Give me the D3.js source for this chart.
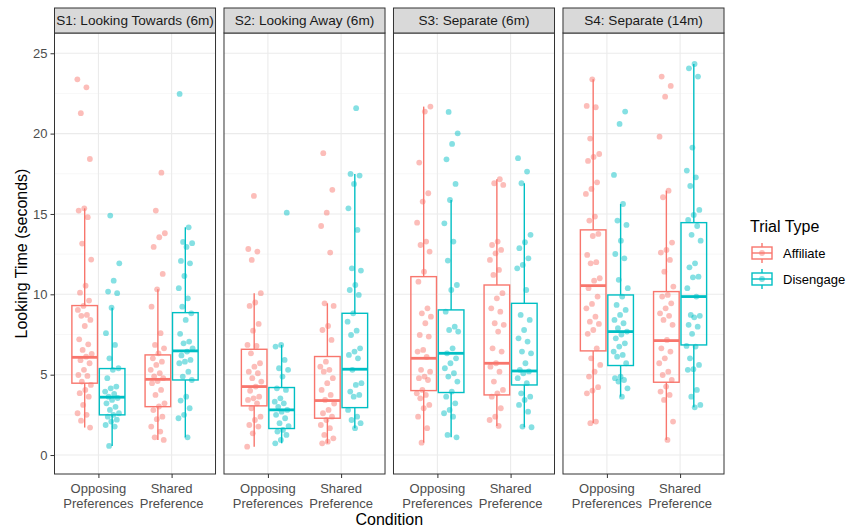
<!DOCTYPE html>
<html>
<head>
<meta charset="utf-8">
<script src="https://cdn.jsdelivr.net/npm/d3@7"></script>
<style>
  body { margin: 0; background: #fff; }
  text { font-family: "Liberation Sans", Arial, Helvetica, sans-serif; }
</style>
</head>
<body>
<div id="chart"></div>
<script>
// facets, conditions, trial types
const facets = ["S1: Looking Towards (6m)", "S2: Looking Away (6m)", "S3: Separate (6m)", "S4: Separate (14m)"];
const conditions = ["Opposing Preferences", "Shared Preference"];
const conditionLines = [["Opposing", "Preferences"], ["Shared", "Preference"]];
const trialTypes = ["Affiliate", "Disengage"];
const yTicks = [0, 5, 10, 15, 20, 25];
const yMinor = [2.5, 7.5, 12.5, 17.5, 22.5];

// box summaries, order: facet > condition > trial type
const boxLow  = [1.71, 0.57, 0.94, 1.1,   0.52, 0.73, 0.73, 1.67,   0.77, 1.1, 1.81, 1.73,    1.98, 3.63, 0.94, 2.97];
const boxQ1   = [4.47, 2.5, 3.01, 4.67,   3.06, 1.65, 2.29, 2.95,   4.01, 3.89, 3.74, 4.36,   6.48, 5.57, 4.53, 6.85];
const boxMed  = [6.08, 3.6, 4.71, 6.48,   4.26, 2.81, 3.39, 5.34,   6.02, 6.33, 5.71, 5.23,   10.54, 7.68, 7.12, 9.86];
const boxQ3   = [9.3, 5.38, 6.23, 8.86,   6.58, 4.2, 6.13, 8.82,    11.1, 9.03, 10.58, 9.44,  14.01, 9.96, 10.17, 14.46];
const boxHigh = [15.35, 9.17, 10.31, 14.17, 10.07, 6.85, 9.44, 17.49, 21.68, 15.87, 17.16, 16.91, 23.38, 15.62, 16.45, 24.33];

// looking times per facet: [opp/affiliate, opp/disengage, shared/affiliate, shared/disengage]
const s1Points = [
  [23.38,22.88,21.27,18.42,15.35,15.21,14.8,13.16,12.16,10.54,10.1,9.61,9.28,9.03,8.72,8.66,8.41,8.03,7.2,6.89,6.54,6.3,6.12,5.9,5.71,5.3,4.98,4.92,4.57,4.36,4.05,3.85,3.63,3.12,2.6,2.5,2.14,1.71],
  [14.9,11.93,10.85,10.17,10.07,9.17,7.58,6.85,6.02,5.4,5.3,4.78,4.26,4.15,3.95,3.8,3.63,3.55,3.43,3.22,3.0,2.81,2.6,2.5,2.39,2.2,2.08,1.87,1.77,0.57],
  [17.57,15.21,13.8,13.55,12.95,11.27,10.31,9.23,7.58,6.85,6.64,6.33,6.02,5.81,5.61,5.3,5.09,4.9,4.78,4.6,4.47,4.05,3.74,3.22,3.02,2.8,2.39,2.23,1.77,1.46,1.1,0.94],
  [22.47,14.17,13.26,13.18,12.95,12.08,11.93,11.14,10.38,9.75,9.23,8.82,8.41,7.54,7.06,6.95,6.64,6.44,6.2,5.92,5.81,5.71,5.19,4.88,4.67,3.63,3.39,2.91,2.5,2.29,1.1]
];
const s2Points = [
  [16.12,12.82,12.66,12.14,10.07,9.49,9.28,8.16,7.74,6.85,6.79,6.33,5.71,5.5,5.19,5.09,4.78,4.57,4.26,4.0,3.63,3.53,3.43,3.22,2.91,2.39,2.18,1.87,1.77,1.35,0.52],
  [15.08,6.85,6.75,5.92,5.4,5.3,4.88,4.15,4.05,3.53,3.32,3.22,3.0,2.81,2.7,2.5,2.29,1.98,1.8,1.56,1.46,1.25,0.94,0.73],
  [18.78,16.5,15.08,14.25,12.6,9.44,9.28,8.03,7.78,7.16,5.81,5.5,5.3,5.19,4.78,4.47,4.05,3.74,3.43,3.2,2.81,2.6,2.39,2.18,1.87,1.67,1.25,1.04,0.83,0.73],
  [21.58,17.49,17.39,16.87,15.35,14.01,11.62,11.48,10.58,10.27,9.96,8.82,8.3,7.74,7.47,6.64,6.44,6.23,6.02,5.3,4.47,4.36,3.95,3.74,3.63,2.81,2.39,2.18,1.98,1.67]
];
const s3Points = [
  [21.68,21.37,18.2,16.29,15.77,14.46,13.28,13.07,12.66,11.41,10.79,9.13,8.82,8.61,8.2,7.47,7.37,6.54,6.44,6.1,5.3,5.19,4.88,4.78,4.67,4.05,3.84,3.74,3.53,3.12,2.91,2.39,1.67,0.77],
  [21.35,20.02,19.36,18.4,16.87,15.87,14.42,13.28,12.1,10.58,10.27,8.92,7.99,7.78,7.68,6.64,6.33,6.02,5.71,5.4,5.09,4.88,4.57,3.95,3.63,3.22,2.81,2.6,2.39,1.25,1.1],
  [17.16,16.91,16.81,13.28,13.07,12.76,12.55,12.14,11.52,11.21,10.07,9.75,9.13,8.92,8.2,8.1,7.68,6.64,6.44,5.71,5.5,5.19,4.57,4.05,3.84,3.63,2.91,2.39,2.18,1.81],
  [18.47,17.64,16.91,13.7,13.24,12.87,12.24,11.83,11.62,10.27,8.72,8.41,7.78,7.26,7.06,6.44,6.33,5.71,5.3,5.2,5.09,4.78,4.47,3.84,3.63,3.43,3.12,2.7,1.77,1.73]
];
const s4Points = [
  [23.38,21.72,21.64,19.69,18.73,18.55,18.3,16.97,16.56,16.25,14.84,14.59,13.76,13.63,12.45,12.0,11.93,11.0,10.85,10.38,9.86,9.4,9.13,8.61,8.3,8.16,7.78,7.54,6.64,6.02,5.61,5.19,4.88,4.22,4.01,3.84,2.08,1.98],
  [21.37,20.6,17.43,15.62,14.59,14.32,13.34,12.51,12.24,10.9,10.38,9.86,9.34,9.03,8.72,8.41,8.2,7.89,7.68,7.5,7.26,6.95,6.75,6.44,6.23,6.12,5.71,4.88,4.78,4.67,4.57,4.15,3.63],
  [23.55,22.97,22.3,19.81,16.45,16.04,13.22,12.76,12.6,12.14,11.41,10.48,9.96,9.86,9.44,9.13,8.82,8.66,8.41,8.1,7.16,6.64,6.44,6.02,5.71,5.19,4.98,4.67,4.26,3.95,3.74,3.43,2.08,0.94],
  [24.33,24.06,23.55,19.13,17.7,17.28,16.74,15.25,14.94,14.63,14.25,13.7,13.34,11.93,11.68,11.1,11.06,10.38,9.86,8.72,8.66,8.57,8.1,7.99,7.54,6.79,6.75,6.02,5.61,5.34,5.3,4.05,3.63,3.12,2.97]
];
const allPoints = [s1Points, s2Points, s3Points, s4Points];

const color = d3.scaleOrdinal()
    .domain(trialTypes)
    .range(["#F8766D", "#00BFC4"]);

const width = 846, height = 527;
const panelTop = 33, panelBottom = 474, stripTop = 8;

const svg = d3.select("#chart")
  .append("svg")
    .attr("width", width)
    .attr("height", height);

// facet position and inner scales
const fx = d3.scaleBand()
    .domain(facets)
    .range([54.5, 724])
    .paddingInner(0.05);

const x = d3.scalePoint()
    .domain(conditions)
    .range([0, fx.bandwidth()])
    .padding(0.6);

const y = d3.scaleLinear()
    .domain([-1.18, 26.26])
    .range([panelBottom, panelTop]);

const step = x.step();
const dodge = 0.1875 * step;
const boxW = 0.35 * step;
const jitterW = 0.1 * step;

facets.forEach(function(f, fi) {
  const g = svg.append("g").attr("transform", `translate(${fx(f)},0)`);
  const pw = fx.bandwidth();

  // panel background + grid
  g.append("rect")
    .attr("x", 0).attr("y", panelTop)
    .attr("width", pw).attr("height", panelBottom - panelTop)
    .attr("fill", "#fff");
  g.selectAll(".minor")
    .data(yMinor)
    .join("line")
      .attr("x1", 0).attr("x2", pw)
      .attr("y1", d => y(d)).attr("y2", d => y(d))
      .attr("stroke", "#F2F2F2").attr("stroke-width", 0.6);
  g.selectAll(".major")
    .data(yTicks)
    .join("line")
      .attr("x1", 0).attr("x2", pw)
      .attr("y1", d => y(d)).attr("y2", d => y(d))
      .attr("stroke", "#EBEBEB").attr("stroke-width", 1.1);
  g.selectAll(".vgrid")
    .data(conditions)
    .join("line")
      .attr("x1", d => x(d)).attr("x2", d => x(d))
      .attr("y1", panelTop).attr("y2", panelBottom)
      .attr("stroke", "#EBEBEB").attr("stroke-width", 1.1);

  // boxes
  conditions.forEach(function(c, ci) {
    trialTypes.forEach(function(t, ti) {
      const idx = fi * 4 + ci * 2 + ti;
      const cx = x(c) + (ti === 0 ? -dodge : dodge);
      const col = color(t);
      const bg = g.append("g");
      bg.append("line")
        .attr("x1", cx).attr("x2", cx)
        .attr("y1", y(boxHigh[idx])).attr("y2", y(boxQ3[idx]))
        .attr("stroke", col).attr("stroke-width", 1.4);
      bg.append("line")
        .attr("x1", cx).attr("x2", cx)
        .attr("y1", y(boxQ1[idx])).attr("y2", y(boxLow[idx]))
        .attr("stroke", col).attr("stroke-width", 1.4);
      bg.append("rect")
        .attr("x", cx - boxW / 2).attr("y", y(boxQ3[idx]))
        .attr("width", boxW).attr("height", y(boxQ1[idx]) - y(boxQ3[idx]))
        .attr("fill", "none").attr("stroke", col).attr("stroke-width", 1.4);
      bg.append("line")
        .attr("x1", cx - boxW / 2).attr("x2", cx + boxW / 2)
        .attr("y1", y(boxMed[idx])).attr("y2", y(boxMed[idx]))
        .attr("stroke", col).attr("stroke-width", 2.8);

      // jittered points (deterministic spread)
      const vals = allPoints[fi][ci * 2 + ti];
      bg.selectAll("circle")
        .data(vals)
        .join("circle")
          .attr("cx", (d, i) => cx + (((i * 0.618034 + idx * 0.37) % 1) - 0.5) * 2 * jitterW)
          .attr("cy", d => y(d))
          .attr("r", 2.9)
          .attr("fill", col)
          .attr("fill-opacity", 0.48);
    });
  });

  // border
  g.append("rect")
    .attr("x", 0).attr("y", panelTop)
    .attr("width", pw).attr("height", panelBottom - panelTop)
    .attr("fill", "none").attr("stroke", "#333333").attr("stroke-width", 1);

  // strip
  g.append("rect")
    .attr("x", 0).attr("y", stripTop)
    .attr("width", pw).attr("height", panelTop - stripTop)
    .attr("fill", "#D9D9D9").attr("stroke", "#333333").attr("stroke-width", 1);
  g.append("text")
    .attr("x", pw / 2).attr("y", (stripTop + panelTop) / 2)
    .attr("dy", "0.35em")
    .attr("text-anchor", "middle")
    .attr("font-size", "13.6px")
    .attr("fill", "#1A1A1A")
    .text(f);

  // x axis
  const xa = g.append("g")
    .attr("transform", `translate(0,${panelBottom})`)
    .call(d3.axisBottom(x).tickSize(4).tickFormat(""));
  xa.select(".domain").remove();
  xa.selectAll(".tick line").attr("stroke", "#333333");
  conditions.forEach(function(c, ci) {
    const t = g.append("text")
      .attr("text-anchor", "middle")
      .attr("font-size", "13px")
      .attr("fill", "#4D4D4D");
    conditionLines[ci].forEach(function(line, li) {
      t.append("tspan")
        .attr("x", x(c))
        .attr("y", 493 + li * 14.5)
        .text(line);
    });
  });
});

// y axis
const ya = svg.append("g")
  .attr("transform", `translate(${fx(facets[0])},0)`)
  .call(d3.axisLeft(y).tickValues(yTicks).tickSize(4).tickPadding(3));
ya.select(".domain").remove();
ya.selectAll(".tick line").attr("stroke", "#333333");
ya.selectAll(".tick text")
  .attr("font-size", "13px")
  .attr("fill", "#4D4D4D")
  .style("font-family", "'Liberation Sans', Arial, sans-serif");

// axis titles
svg.append("text")
  .attr("transform", `translate(21,${(panelTop + panelBottom) / 2}) rotate(-90)`)
  .attr("text-anchor", "middle")
  .attr("dy", "0.35em")
  .attr("font-size", "16px")
  .attr("fill", "#000")
  .text("Looking Time (seconds)");

svg.append("text")
  .attr("x", (54.5 + 724) / 2)
  .attr("y", 525)
  .attr("text-anchor", "middle")
  .attr("font-size", "16px")
  .attr("fill", "#000")
  .text("Condition");

// legend
const legend = svg.append("g").attr("transform", "translate(750,0)");
legend.append("text")
  .attr("x", 0).attr("y", 226)
  .attr("dy", "0.35em")
  .attr("font-size", "16px")
  .attr("fill", "#000")
  .text("Trial Type");

trialTypes.forEach(function(t, i) {
  const cy = 253 + i * 26;
  const col = color(t);
  const k = legend.append("g");
  k.append("line")
    .attr("x1", 12).attr("x2", 12)
    .attr("y1", cy - 10).attr("y2", cy + 10)
    .attr("stroke", col).attr("stroke-width", 1.4);
  k.append("rect")
    .attr("x", 2).attr("y", cy - 6)
    .attr("width", 20).attr("height", 12)
    .attr("fill", "#fff").attr("stroke", col).attr("stroke-width", 1.4);
  k.append("line")
    .attr("x1", 2).attr("x2", 22)
    .attr("y1", cy).attr("y2", cy)
    .attr("stroke", col).attr("stroke-width", 1.4);
  k.append("circle")
    .attr("cx", 12).attr("cy", cy).attr("r", 2.9)
    .attr("fill", col).attr("fill-opacity", 0.48);
  k.append("text")
    .attr("x", 33).attr("y", cy)
    .attr("dy", "0.35em")
    .attr("font-size", "13px")
    .attr("fill", "#000")
    .text(t);
});
</script>
</body>
</html>
